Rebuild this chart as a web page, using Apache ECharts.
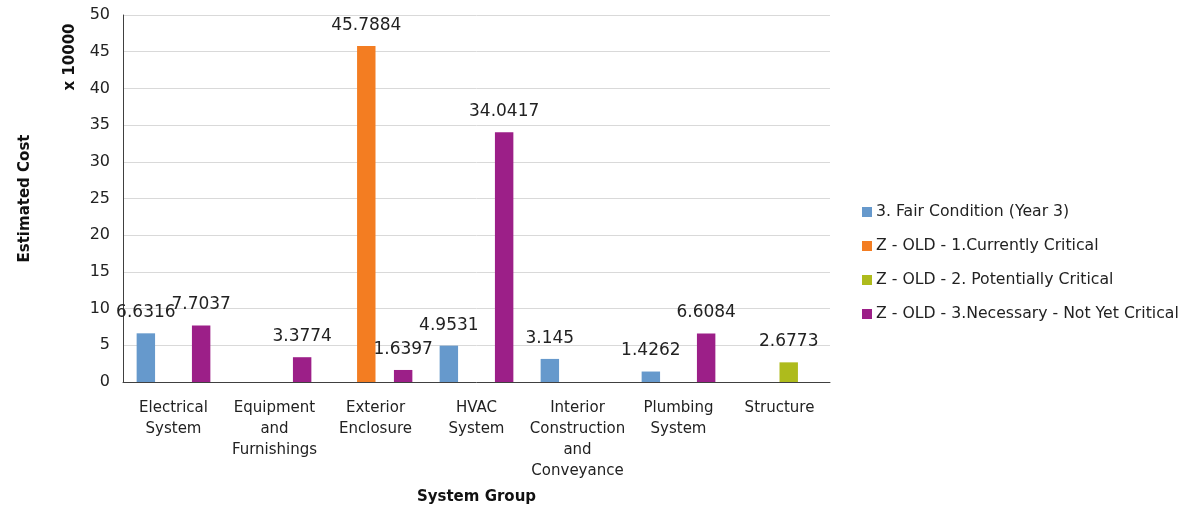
<!DOCTYPE html>
<html>
<head>
<meta charset="utf-8">
<script src="https://cdn.jsdelivr.net/npm/echarts@6/dist/echarts.min.js"></script>
<style>
  html, body { margin: 0; padding: 0; background: #fff; }
  #chart { width: 1203px; height: 511px; }
</style>
</head>
<body>
<div id="chart"></div>
<script>
// categories on the x axis
const categories = [
  'Electrical System',
  'Equipment and Furnishings',
  'Exterior Enclosure',
  'HVAC System',
  'Interior Construction and Conveyance',
  'Plumbing System',
  'Structure'
]
// series names
const seriesNames = [
  '3. Fair Condition (Year 3)',
  'Z - OLD - 1.Currently Critical',
  'Z - OLD - 2. Potentially Critical',
  'Z - OLD - 3.Necessary - Not Yet Critical'
]
// values, in units of 10000
const fairValues = [6.6316, null, null, 4.9531, 3.145, 1.4262, null]
const currentlyCriticalValues = [null, null, 45.7884, null, null, null, null]
const potentiallyCriticalValues = [null, null, null, null, null, null, 2.6773]
const necessaryValues = [7.7037, 3.3774, 1.6397, 34.0417, null, 6.6084, null]
// y axis ticks
const yTicks = [0, 5, 10, 15, 20, 25, 30, 35, 40, 45, 50]

const colors = ['#6699CC', '#F37D22', '#AEBB1C', '#9C1F88']
const font = 'DejaVu Sans'

const chart = echarts.init(document.getElementById('chart'))

const allValues = [fairValues, currentlyCriticalValues, potentiallyCriticalValues, necessaryValues]

const option = {
  animation: false,
  textStyle: { fontFamily: font },
  grid: {
    left: 123,
    right: 373,
    top: 15,
    bottom: 129
  },
  legend: {
    orient: 'vertical',
    left: 857,
    top: 199,
    itemWidth: 10,
    itemHeight: 10,
    itemGap: 18,
    icon: 'rect',
    data: seriesNames,
    textStyle: { fontFamily: font, fontSize: 15.7, color: '#222', padding: [0, 0, 0, -1] }
  },
  xAxis: {
    type: 'category',
    data: categories,
    name: 'System Group',
    nameLocation: 'middle',
    nameGap: 108,
    nameTextStyle: { fontFamily: font, fontSize: 15, fontWeight: 'bold', color: '#111' },
    axisLine: { lineStyle: { color: '#404040', width: 1 } },
    axisTick: { show: false },
    axisLabel: {
      interval: 0,
      margin: 16,
      fontSize: 15,
      lineHeight: 21,
      color: '#222',
      formatter: v => v.split(' ').join('\n') // one word per line
    }
  },
  yAxis: {
    type: 'value',
    min: yTicks[0],
    max: yTicks[yTicks.length - 1],
    interval: yTicks[1] - yTicks[0],
    name: 'Estimated Cost',
    nameLocation: 'middle',
    nameGap: 90,
    nameTextStyle: { fontFamily: font, fontSize: 15, fontWeight: 'bold', color: '#111' },
    axisLine: { show: true, lineStyle: { color: '#404040', width: 1 } },
    axisTick: { show: false },
    axisLabel: { margin: 13, fontSize: 16, color: '#222' },
    splitLine: { lineStyle: { color: '#D9D9D9', width: 1 } }
  },
  graphic: [
    {
      // unit note next to the y axis
      type: 'text',
      x: 70,
      y: 57,
      rotation: Math.PI / 2,
      style: {
        text: 'x 10000',
        fontFamily: font,
        fontSize: 15,
        fontWeight: 'bold',
        fill: '#111',
        align: 'center',
        verticalAlign: 'middle'
      }
    }
  ],
  series: seriesNames.map((name, i) => ({
    name: name,
    type: 'bar',
    data: allValues[i],
    barGap: '0%',
    barCategoryGap: '27%',
    itemStyle: { color: colors[i] },
    label: {
      show: true,
      position: 'top',
      distance: 12,
      fontFamily: font,
      fontSize: 17,
      color: '#222'
    }
  }))
}

chart.setOption(option)
</script>
</body>
</html>
